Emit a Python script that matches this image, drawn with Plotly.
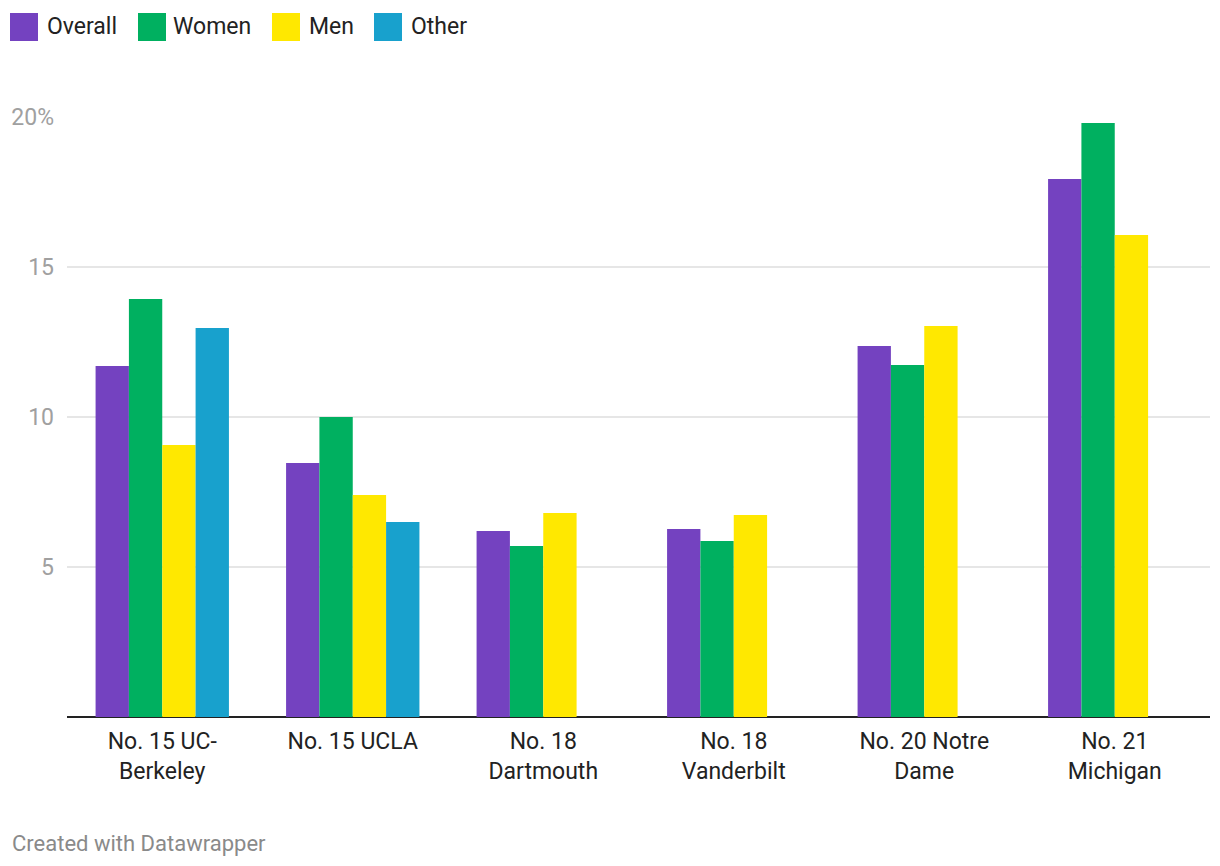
import plotly.graph_objects as go

categories = ["No. 15 UC-<br>Berkeley", "No. 15 UCLA", "No. 18<br>Dartmouth",
              "No. 18<br>Vanderbilt", "No. 20 Notre<br>Dame", "No. 21<br>Michigan"]
overall = [11.7, 8.47, 6.2, 6.27, 12.37, 17.93]
women = [13.93, 10.0, 5.7, 5.87, 11.73, 19.8]
men = [9.07, 7.4, 6.8, 6.73, 13.03, 16.07]
other = [12.97, 6.5, None, None, None, None]

series_names = ["Overall", "Women", "Men", "Other"]
series_values = [overall, women, men, other]
colors = ["#7442c0", "#00b060", "#ffe800", "#18a1cd"]

tick_vals = [5, 10, 15, 20]
tick_text = ["5", "10", "15", "20%"]

W, H = 1220, 866
L, R, T, B = 67, 10, 117, 149
PW = W - L - R
PH = H - T - B

fig = go.Figure()
for name, vals, col in zip(series_names, series_values, colors):
    fig.add_trace(go.Bar(x=categories, y=vals, name=name, marker_color=col,
                         marker_line_width=0, showlegend=False, hoverinfo="skip"))

FONT = "Roboto, sans-serif"

def px2x(px):
    return (px - L) / PW

def py2y(py):
    return (H - B - py) / PH

# custom legend
legend_items = [(10, 45), (138, 171), (272, 307), (374, 409)]
shapes = []
annotations = []
for (sx, tx), name, col in zip(legend_items, series_names, colors):
    shapes.append(dict(type="rect", xref="paper", yref="paper",
                       x0=px2x(sx), x1=px2x(sx + 28), y0=py2y(41), y1=py2y(13),
                       fillcolor=col, line_width=0, layer="above"))
    annotations.append(dict(text=name, xref="paper", yref="paper", x=px2x(tx), y=py2y(26),
                            xanchor="left", yanchor="middle", showarrow=False,
                            font=dict(family=FONT, size=23, color="#222222")))

annotations.append(dict(text="Created with Datawrapper", xref="paper", yref="paper",
                        x=px2x(10), y=py2y(843), xanchor="left", yanchor="middle",
                        showarrow=False, font=dict(family=FONT, size=22, color="#8a8a8a")))

fig.update_layout(
    width=W, height=H,
    margin=dict(l=L, r=R, t=T, b=B, pad=0),
    barmode="group", bargap=0.3, bargroupgap=0,
    plot_bgcolor="white", paper_bgcolor="white",
    font=dict(family=FONT, size=23, color="#222222"),
    shapes=shapes, annotations=annotations,
    xaxis=dict(showgrid=False, showline=False, ticks="", zeroline=False,
               ticklabelstandoff=8,
               tickfont=dict(family=FONT, size=23, color="#222222")),
    yaxis=dict(range=[0, 20], tickvals=tick_vals, ticktext=tick_text,
               showgrid=True, gridcolor="#e6e6e6", gridwidth=1.5,
               zeroline=True, zerolinecolor="#222222", zerolinewidth=2,
               showline=False, ticks="", ticklabelstandoff=12,
               tickfont=dict(family=FONT, size=23, color="#a0a0a0")),
    showlegend=False,
)

fig.write_html("out.html", config={"displayModeBar": False})
